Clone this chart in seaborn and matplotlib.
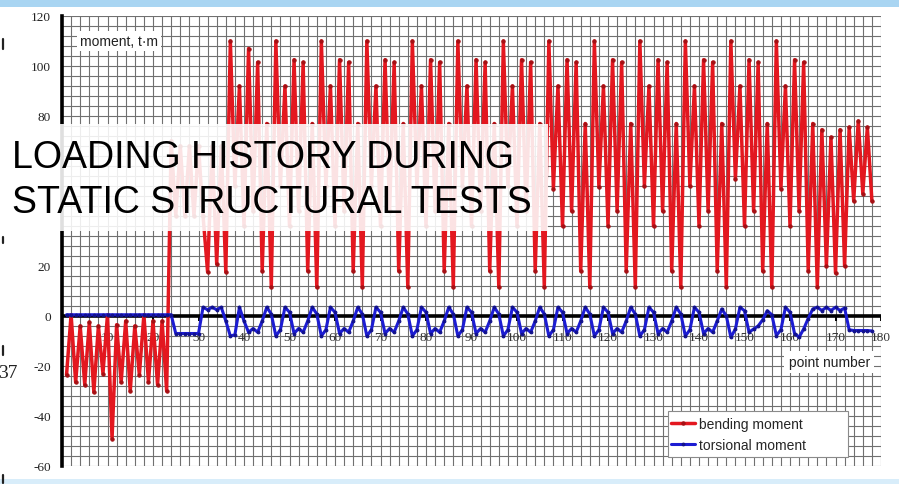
import matplotlib
matplotlib.use("Agg")
import matplotlib.pyplot as plt
from matplotlib.patches import Rectangle
from matplotlib.lines import Line2D
import seaborn as sns
import pandas as pd
import numpy as np

# ---------------- data ----------------
point_number = list(range(1, 179))

bending_moment = [
    -23.5, 0.5, -26.5, -4, -27.5, -2.5, -30.5, -4, -23, 0.5,        # 1-10
    -49, -3.5, -26.5, -2, -30, -4, -23.5, 0.5, -26.5, -2,           # 11-20
    -27.5, -2, -30, 70, 40, 68, 40, 68, 40, 68,                     # 21-30
    40, 17.6, 68, 20.8, 68, 17.6, 110, 52, 92, 36,                  # 31-40
    107, 42, 101.5, 18, 77, 11.5, 110, 52, 92, 36,                  # 41-50
    102.5, 42, 101.5, 18, 77, 11.5, 110, 52, 92, 36,                # 51-60
    102.5, 42, 101.5, 18, 77, 11.5, 110, 52, 92, 36,                # 61-70
    102.5, 42, 101.5, 18, 77, 11.5, 110, 52, 92, 36,                # 71-80
    102.5, 42, 101.5, 18, 77, 11.5, 110, 52, 92, 36,                # 81-90
    102.5, 42, 101.5, 18, 77, 11.5, 110, 52, 92, 36,                # 91-100
    102.5, 42, 101.5, 18, 77, 11.5, 110, 51, 92, 36,                # 101-110
    102.5, 42, 101.5, 18, 77, 11.5, 110, 51.5, 92, 36,              # 111-120
    102.5, 42, 101.5, 18, 77, 11.5, 110, 52, 92, 36,                # 121-130
    102.5, 42, 101.5, 18, 77, 11.5, 110, 52, 92, 36,                # 131-140
    102.5, 42, 101.5, 18, 77, 11.5, 110, 54.8, 92, 36,              # 141-150
    102.5, 42, 101.5, 18, 77, 11.5, 110, 51, 92, 36,                # 151-160
    102.5, 42, 101.5, 18, 77, 11.5, 74.5, 20, 71.5, 17.2,           # 161-170
    74.5, 20, 75.5, 46, 78, 49, 75.5, 46,                           # 171-178
]

torsional_moment = [
    0.5, 0.5, 0.5, 0.5, 0.5, 0.5, 0.5, 0.5, 0.5, 0.5,               # 1-10
    0.5, 0.5, 0.5, 0.5, 0.5, 0.5, 0.5, 0.5, 0.5, 0.5,               # 11-20
    0.5, 0.5, 0.5, 0.5, -7, -7, -7, -7, -7, -7,                     # 21-30
    3.5, 2.5, 3.5, 2.5, 3.5, -2, -8, -7.5, 3.5, -2,                 # 31-40
    -6.5, -5, -6.5, -2, 3.5, 0.8, -8, -5.5, 3.5, 1.5,               # 41-50
    -7, -5, -6.5, -2, 3.5, 0.8, -8, -5.5, 3.5, 1.5,                 # 51-60
    -7, -5, -6.5, -2, 3.5, 0.8, -8, -5.5, 3.5, 1.5,                 # 61-70
    -7, -5, -6.5, -2, 3.5, 0.8, -8, -5.5, 3.5, 1.5,                 # 71-80
    -7, -5, -6.5, -2, 3.5, 0.8, -8, -5.5, 3.5, 1.5,                 # 81-90
    -7, -5, -6.5, -2, 3.5, 0.8, -8, -5.5, 3.5, 1.5,                 # 91-100
    -7, -5, -6.5, -2, 3.5, 0.8, -8, -5.5, 3.5, 1.5,                 # 101-110
    -7, -5, -6.5, -2, 3.5, 0.8, -8, -5.5, 3.5, 1.5,                 # 111-120
    -7, -5, -6.5, -2, 3.5, 0.8, -8, -5.5, 3.5, 1.5,                 # 121-130
    -7, -5, -6.5, -2, 3.5, 0.8, -8, -5.5, 3.5, 1.5,                 # 131-140
    -7, -5, -6.5, -2, 2.8, 0.1, -8.5, -5.2, 3.5, 2.1,               # 141-150
    -6.5, -5.2, -4, -1.5, 2.1, 0.5, -7.8, -5.5, 3.5, 1.5,           # 151-160
    -7, -8.5, -5.2, -1, 2.8, 3.5, 2.2, 3.5, 2.2, 3.5,               # 161-170
    2.2, 3.2, -5.5, -5.8, -5.8, -5.8, -5.8, -6,                     # 171-178
]

x_tick_values = [10, 20, 30, 40, 50, 60, 70, 80, 90, 100, 110, 120, 130, 140, 150, 160, 170, 180]
y_tick_values = [-60, -40, -20, 0, 20, 40, 60, 80, 100, 120]
# labels 40 and 60 are hidden under the title panel in the reference
y_tick_labels = ["-60", "-40", "-20", "0", "20", "", "", "80", "100", "120"]

df = pd.DataFrame({"point": point_number,
                   "bending moment": bending_moment,
                   "torsional moment": torsional_moment})

# ---------------- style ----------------
sns.set_style("white")
plt.rcParams["font.family"] = ["Liberation Sans", "DejaVu Sans"]

W, H = 899, 485
fig = plt.figure(figsize=(W / 100, H / 100), dpi=100)
fig.patch.set_facecolor("white")

ax = fig.add_axes([62 / W, 18 / H, 819 / W, 450 / H])
ax.set_xlim(0, 180)
ax.set_ylim(-60, 120)

RED = "#e3171f"
BLUE = "#1c1cd2"

sns.lineplot(data=df, x="point", y="bending moment", ax=ax, color=RED, lw=2.5,
             marker="o", markersize=2.4, markerfacecolor="#a51014",
             markeredgecolor="#a51014", label="bending moment", zorder=4)
sns.lineplot(data=df, x="point", y="torsional moment", ax=ax, color=BLUE, lw=2.2,
             marker="o", markersize=2.0, markerfacecolor="#12128c",
             markeredgecolor="#12128c", label="torsional moment", zorder=5)

# grid
ax.set_xticks(np.arange(0, 181, 2))
ax.set_xticklabels([])
ax.set_yticks(np.arange(-60, 121, 4), minor=True)
ax.set_yticks(y_tick_values)
ax.set_yticklabels(y_tick_labels, family="Liberation Serif",
                   fontsize=9.5, color="#222222")
ax.tick_params(axis="x", length=0)
ax.tick_params(axis="y", which="major", length=5, width=1.6, color="black", pad=3)
ax.tick_params(axis="y", which="minor", length=0)
ax.grid(True, which="both", color="#707070", lw=0.8)
ax.set_axisbelow(True)
ax.set_xlabel("")
ax.set_ylabel("")

for s in ["top", "right", "bottom"]:
    ax.spines[s].set_visible(False)
ax.spines["left"].set_linewidth(2.6)
ax.spines["left"].set_color("black")

ax.axhline(0, color="black", lw=2.6, zorder=3)
ax.vlines(x_tick_values, -1.8, 0, color="black", lw=1.4, zorder=3)

for v in x_tick_values:
    ax.text(v, -8.3, str(v), ha="center", va="center", family="Liberation Serif",
            fontsize=9.5, color="#333333", zorder=3.5, clip_on=False)

ax.text(4, 110, "moment, t·m", ha="left", va="center", fontsize=10, color="#222222",
        bbox=dict(facecolor="white", edgecolor="none", pad=2), zorder=6)
ax.text(168.6, -18.4, "point number", ha="center", va="center", fontsize=10,
        color="#222222", bbox=dict(facecolor="white", edgecolor="none", pad=3), zorder=6)

# legend frame (wide, Excel style) + legend entries
ax.add_patch(Rectangle(((668 - 62) / 819, (467 - 458) / 450), 180 / 819, 46 / 450,
                       transform=ax.transAxes, facecolor="white", edgecolor="#8a8a8a",
                       lw=0.8, zorder=6.5))
leg = ax.legend(loc="upper left", bbox_to_anchor=((671 - 62) / 819, (467 - 418) / 450),
                fontsize=10, frameon=False, handlelength=1.75, handletextpad=0.3,
                borderpad=0.0, borderaxespad=0.0, labelspacing=0.5)
leg.set_zorder(7)

# ---------------- slide decorations ----------------
fig.patches.append(Rectangle((0, 1 - 8 / H), 1, 8 / H, transform=fig.transFigure,
                             facecolor="#a9d5f2", edgecolor="none", zorder=1))
fig.patches.append(Rectangle((0, 0), 1, 5 / H, transform=fig.transFigure,
                             facecolor="#d8edfa", edgecolor="none", zorder=1))
fig.patches.append(Rectangle((0, 1 - 232 / H), 548 / W, 107 / H, transform=fig.transFigure,
                             facecolor="white", edgecolor="none", alpha=0.88, zorder=2))
fig.text(12 / W, 1 - 158 / H, "LOADING HISTORY DURING", fontsize=27, color="black",
         ha="left", va="center", zorder=3)
fig.text(12 / W, 1 - 203 / H, "STATIC STRUCTURAL TESTS", fontsize=27, color="black",
         ha="left", va="center", zorder=3)
fig.text(18 / W, 1 - 373 / H, "37", fontsize=14, family="Liberation Serif",
         ha="right", va="center", color="#222222")

# small clipped marks at the slide's left edge
for y0, y1 in [(40, 50), (238, 244), (347, 356), (476, 484)]:
    fig.add_artist(Line2D([3 / W, 3 / W], [1 - y0 / H, 1 - y1 / H],
                          transform=fig.transFigure, color="#222222", lw=1.6))

fig.savefig("out.png", dpi=100)
